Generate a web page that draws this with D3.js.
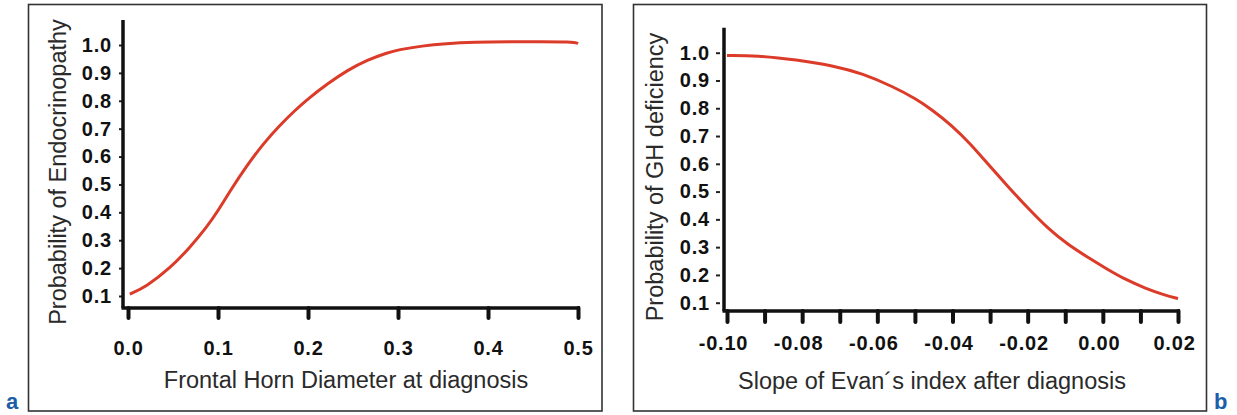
<!DOCTYPE html>
<html>
<head>
<meta charset="utf-8">
<script src="https://cdn.jsdelivr.net/npm/d3@7"></script>
<style>
  body { margin: 0; background: #fff; }
  .tick-label { font-family: "Liberation Sans Narrow", "Arial Narrow", "Liberation Sans", sans-serif; font-weight: bold; font-size: 20px; letter-spacing: 0.8px; fill: #111; }
  .axis-title { font-family: "Liberation Sans", Arial, sans-serif; font-size: 23.5px; fill: #2a2a2a; }
  .panel-tag { font-family: "Liberation Sans Narrow", "Liberation Sans", sans-serif; font-weight: bold; font-size: 22px; fill: #1c5ea8; }
</style>
</head>
<body>
<div id="chart"></div>
<script>
// panel a: frontal horn diameter vs probability of endocrinopathy
const diamX = [0.002, 0.02, 0.047, 0.069, 0.087, 0.1, 0.114, 0.132, 0.15, 0.168, 0.186, 0.2, 0.222, 0.244, 0.266, 0.288, 0.3, 0.327, 0.354, 0.38, 0.44, 0.496, 0.5];
const endoProb = [0.107, 0.133, 0.2, 0.275, 0.345, 0.405, 0.48, 0.567, 0.645, 0.71, 0.767, 0.807, 0.862, 0.91, 0.947, 0.972, 0.983, 0.997, 1.005, 1.01, 1.012, 1.012, 1.005];
const diamTicks = [0, 0.1, 0.2, 0.3, 0.4, 0.5];

// panel b: slope of Evans index vs probability of GH deficiency
const slopeX = [-0.1, -0.092, -0.0816, -0.0713, -0.064, -0.0558, -0.0496, -0.0455, -0.0403, -0.0352, -0.03, -0.0249, -0.0197, -0.0146, -0.0094, -0.0042, 0.001, 0.0062, 0.0113, 0.0165, 0.02];
const ghProb = [0.99, 0.99, 0.975, 0.952, 0.925, 0.878, 0.833, 0.795, 0.74, 0.672, 0.59, 0.513, 0.437, 0.367, 0.31, 0.265, 0.222, 0.182, 0.152, 0.127, 0.115];
const slopeTicks = [-0.10, -0.09, -0.08, -0.07, -0.06, -0.05, -0.04, -0.03, -0.02, -0.01, 0.00, 0.01, 0.02];
const slopeLabelled = [-0.10, -0.08, -0.06, -0.04, -0.02, 0.00, 0.02];

const probTicks = [0.1, 0.2, 0.3, 0.4, 0.5, 0.6, 0.7, 0.8, 0.9, 1.0];

const svg = d3.select("#chart").append("svg")
    .attr("width", 1237)
    .attr("height", 415);

function drawPanel(p) {
    // frame around the panel
    svg.append("rect")
        .attr("x", p.frame[0]).attr("y", p.frame[1])
        .attr("width", p.frame[2]).attr("height", p.frame[3])
        .attr("fill", "none")
        .attr("stroke", "#333")
        .attr("stroke-width", 1.6);

    const x = d3.scaleLinear().domain(p.xDomain).range(p.xRange);
    const y = d3.scaleLinear().domain([0.1, 1.0]).range(p.yRange);

    // y axis
    const yAxis = svg.append("g")
        .attr("transform", `translate(${p.axisX},0)`)
        .call(d3.axisLeft(y).tickValues(probTicks)
            .tickSize(p.yDash ? 8 : 0)
            .tickPadding(p.yDash ? 6 : 11)
            .tickFormat(d3.format(".1f")));
    yAxis.select(".domain").remove();
    yAxis.selectAll(".tick line")
        .attr("x1", -4)
        .attr("stroke", "#222")
        .attr("stroke-width", 2);
    yAxis.selectAll(".tick text").attr("class", "tick-label").attr("font-family", null).attr("font-size", null);

    // x axis
    const xAxis = svg.append("g")
        .attr("transform", `translate(0,${p.axisY})`)
        .call(d3.axisBottom(x).tickValues(p.xTicks)
            .tickSize(p.xTickLen)
            .tickPadding(p.xPad)
            .tickFormat(p.xFormat));
    xAxis.select(".domain").remove();
    xAxis.selectAll(".tick line")
        .attr("stroke", "#111")
        .attr("stroke-width", 4)
        .attr("stroke-linecap", "round");
    xAxis.selectAll(".tick text").attr("class", "tick-label").attr("font-family", null).attr("font-size", null)
        .attr("dx", p.xLabelShift);

    // axis lines
    svg.append("line")
        .attr("x1", p.axisX).attr("x2", p.axisX)
        .attr("y1", y(p.yTop)).attr("y2", p.axisY)
        .attr("stroke", "#111").attr("stroke-width", 3.5);
    svg.append("line")
        .attr("x1", p.axisX - 1.5).attr("x2", x(p.xDomain[1]) + 2)
        .attr("y1", p.axisY).attr("y2", p.axisY)
        .attr("stroke", "#111").attr("stroke-width", 3.5);

    // the curve
    const line = d3.line()
        .x((d, i) => x(p.xs[i]))
        .y(d => y(d))
        .curve(d3.curveBasis);
    svg.append("path")
        .datum(p.ys)
        .attr("d", line)
        .attr("fill", "none")
        .attr("stroke", "#db3b28")
        .attr("stroke-width", 3);

    // axis titles
    svg.append("text")
        .attr("class", "axis-title")
        .attr("text-anchor", "middle")
        .attr("x", p.xTitle[0]).attr("y", p.xTitle[1])
        .attr("dy", "0.35em")
        .text(p.xLabel);
    svg.append("text")
        .attr("class", "axis-title")
        .attr("text-anchor", "middle")
        .attr("transform", `translate(${p.yTitle[0]},${p.yTitle[1]}) rotate(-90)`)
        .attr("dy", "0.35em")
        .text(p.yLabel);

    svg.append("text")
        .attr("class", "panel-tag")
        .attr("x", p.tag[0]).attr("y", p.tag[1])
        .text(p.tagText);
}

drawPanel({
    frame: [28.5, 4.5, 573.5, 406.5],
    xDomain: [0, 0.5], xRange: [128, 578],
    yRange: [296, 45], yTop: 1.09,
    axisX: 123, axisY: 308,
    xs: diamX, ys: endoProb,
    xTicks: diamTicks, xTickLen: 10, xPad: 23, xLabelShift: 0,
    xFormat: d3.format(".1f"),
    yDash: false,
    xLabel: "Frontal Horn Diameter at diagnosis", xTitle: [346, 380],
    yLabel: "Probability of Endocrinopathy", yTitle: [58, 172],
    tagText: "a", tag: [6, 409]
});

drawPanel({
    frame: [633.5, 4.5, 573, 406.5],
    xDomain: [-0.10, 0.02], xRange: [727, 1178],
    yRange: [302.7, 52.7], yTop: 1.09,
    axisX: 724, axisY: 311,
    xs: slopeX, ys: ghProb,
    xTicks: slopeTicks, xTickLen: 11, xPad: 14, xLabelShift: -4,
    xFormat: d => slopeLabelled.some(v => Math.abs(v - d) < 1e-9) ? d.toFixed(2) : "",
    yDash: true,
    xLabel: "Slope of Evan´s index after diagnosis", xTitle: [932, 381],
    yLabel: "Probability of GH deficiency", yTitle: [655, 177],
    tagText: "b", tag: [1214, 409]
});
</script>
</body>
</html>
